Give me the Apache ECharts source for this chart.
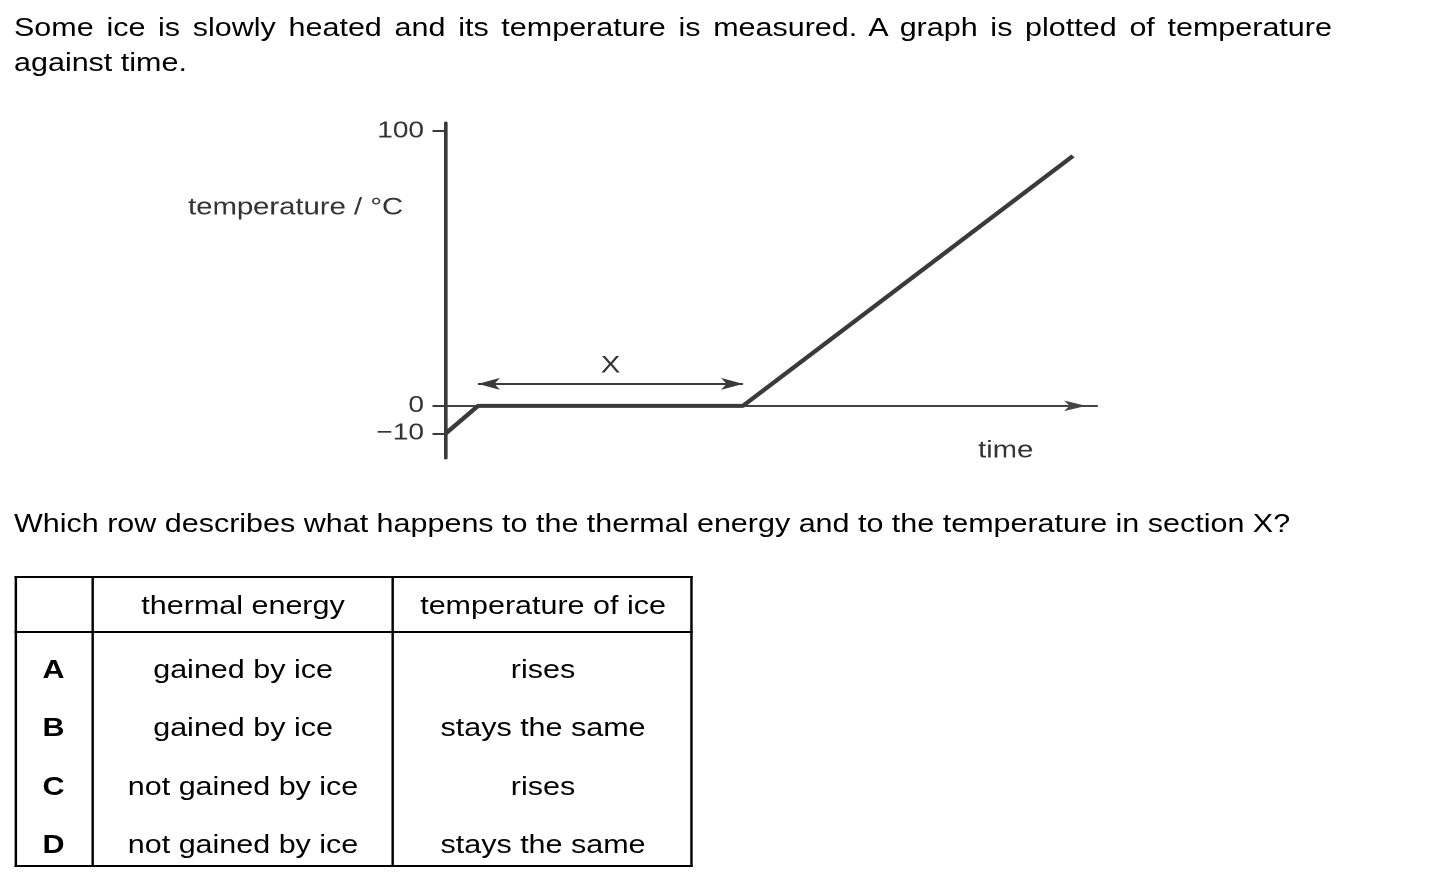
<!DOCTYPE html>
<html>
<head>
<meta charset="utf-8">
<script src="https://cdn.jsdelivr.net/npm/echarts@6/dist/echarts.min.js"></script>
<style>
  html, body { margin: 0; padding: 0; width: 1439px; height: 888px; overflow: hidden; background: #fff; }
  #page { position: absolute; left: 0; top: 0; width: 1180px; height: 888px; transform: scaleX(1.219492); transform-origin: 0 0; }
  #chart { position: absolute; left: 0; top: 0; width: 1180px; height: 888px; }
  .txt { position: absolute; font-family: 'Liberation Sans', Arial, sans-serif; font-size: 25px; color: #000; white-space: nowrap; z-index: 2; }
  .cell { position: absolute; height: 30px; line-height: 30px; text-align: center; }
  .rule { position: absolute; background: #000; z-index: 2; }
</style>
</head>
<body>
<div id="page">
  <div id="chart"></div>
</div>
<script>
// ---- data ----
const introLine1 = 'Some ice is slowly heated and its temperature is measured. A graph is plotted of temperature';
const introLine2 = 'against time.';
const questionText = 'Which row describes what happens to the thermal energy and to the temperature in section X?';
const yAxisTitle = 'temperature / °C';
const xAxisTitle = 'time';
const timeValues = [0, 4.92, 45.62, 96.31];
const temperatureValues = [-10, 0, 0, 91];
const yTickValues = [-10, 0, 100];
const sectionXTimes = [4.92, 45.62];
const sectionXLevel = 8.0;
const sectionXLabel = 'X';
const tableHeaders = ['', 'thermal energy', 'temperature of ice'];
const rowKeys = ['A', 'B', 'C', 'D'];
const thermalEnergy = ['gained by ice', 'gained by ice', 'not gained by ice', 'not gained by ice'];
const temperatureOfIce = ['rises', 'stays the same', 'rises', 'stays the same'];

// ---- text & table (HTML) ----
const page = document.getElementById('page');
function addDiv(cls, text, style) {
  const d = document.createElement('div');
  d.className = cls;
  if (text != null) d.textContent = text;
  Object.assign(d.style, style);
  page.appendChild(d);
  return d;
}
addDiv('txt', introLine1, { left: '11.5px', top: '10px', width: '1080.7px', lineHeight: '35px', textAlign: 'justify', textAlignLast: 'justify' });
addDiv('txt', introLine2, { left: '11.5px', top: '45px', lineHeight: '35px' });
addDiv('txt', questionText, { left: '11.5px', top: '506px', lineHeight: '35px' });

// table geometry (unstretched px)
const colEdges = [11.5, 76.3, 322.3, 568.3];
const tableTop = 576, tableBottom = 867, headerBottom = 632;
const rowCenters = [669, 727, 786, 844];
const headerCenter = 605;
const bw = 2;
addDiv('rule', null, { left: colEdges[0] + 'px', top: tableTop + 'px', width: (colEdges[3] - colEdges[0]) + 'px', height: bw + 'px' });
addDiv('rule', null, { left: colEdges[0] + 'px', top: (tableBottom - bw) + 'px', width: (colEdges[3] - colEdges[0]) + 'px', height: bw + 'px' });
addDiv('rule', null, { left: colEdges[0] + 'px', top: (headerBottom - 1) + 'px', width: (colEdges[3] - colEdges[0]) + 'px', height: bw + 'px' });
colEdges.forEach(function (x, i) {
  const left = i === 0 ? x : (i === colEdges.length - 1 ? x - bw : x - bw / 2);
  addDiv('rule', null, { left: left + 'px', top: tableTop + 'px', width: bw + 'px', height: (tableBottom - tableTop) + 'px' });
});
function cell(col, center, text, bold) {
  addDiv('txt cell', text, {
    left: colEdges[col] + 'px', width: (colEdges[col + 1] - colEdges[col]) + 'px',
    top: (center - 15) + 'px', fontWeight: bold ? 'bold' : 'normal'
  });
}
tableHeaders.forEach(function (h, i) { if (h) cell(i, headerCenter, h, false); });
rowKeys.forEach(function (k, r) {
  cell(0, rowCenters[r], k, true);
  cell(1, rowCenters[r], thermalEnergy[r], false);
  cell(2, rowCenters[r], temperatureOfIce[r], false);
});

// ---- chart ----
const chart = echarts.init(document.getElementById('chart'), null, { renderer: 'canvas', devicePixelRatio: 2 });
const FONT = "'Liberation Sans', Arial, sans-serif";
const lineColor = '#3a3a3a';
const points = timeValues.map(function (t, i) { return [t, temperatureValues[i]]; });

chart.setOption({
  animation: false,
  backgroundColor: 'transparent',
  grid: { left: 365.7, right: 280.45, top: 123, bottom: 430, containLabel: false },
  xAxis: {
    type: 'value', min: 0, max: 100,
    axisLine: { show: true, onZero: true, lineStyle: { color: '#444', width: 2 }, symbol: ['none', 'arrow'], symbolSize: [8, 18], symbolOffset: [0, -9] },
    axisTick: { show: false }, axisLabel: { show: false }, splitLine: { show: false }
  },
  yAxis: {
    type: 'value', min: -19, max: 103,
    axisLine: { show: true, lineStyle: { color: '#3a3a3a', width: 3 } },
    axisTick: { show: true, length: 11, customValues: yTickValues, lineStyle: { color: '#3a3a3a', width: 2 } },
    axisLabel: {
      show: true, customValues: yTickValues, margin: 18,
      fontFamily: FONT, fontSize: 23, color: '#333',
      formatter: function (v) { return v < 0 ? '\u2212' + Math.abs(v) : String(v); }
    },
    splitLine: { show: false }
  },
  graphic: [
    { type: 'text', left: 154.2, top: 196, style: { text: yAxisTitle, font: '24px ' + FONT, fill: '#333' } },
    { type: 'text', left: 802, top: 439, style: { text: xAxisTitle, font: '24px ' + FONT, fill: '#333' } }
  ],
  series: [{
    type: 'line',
    data: points,
    symbol: 'none',
    lineStyle: { color: lineColor, width: 4 },
    silent: true,
    z: 5,
    markLine: {
      silent: true,
      symbol: ['arrow', 'arrow'],
      symbolSize: [9, 18],
      lineStyle: { color: '#3a3a3a', width: 2, type: 'solid' },
      label: { show: true, position: 'middle', formatter: sectionXLabel, fontFamily: FONT, fontSize: 24, color: '#333', distance: 6 },
      emphasis: { disabled: true },
      data: [[{ coord: [sectionXTimes[0], sectionXLevel] }, { coord: [sectionXTimes[1], sectionXLevel] }]]
    }
  }]
});
</script>
</body>
</html>
